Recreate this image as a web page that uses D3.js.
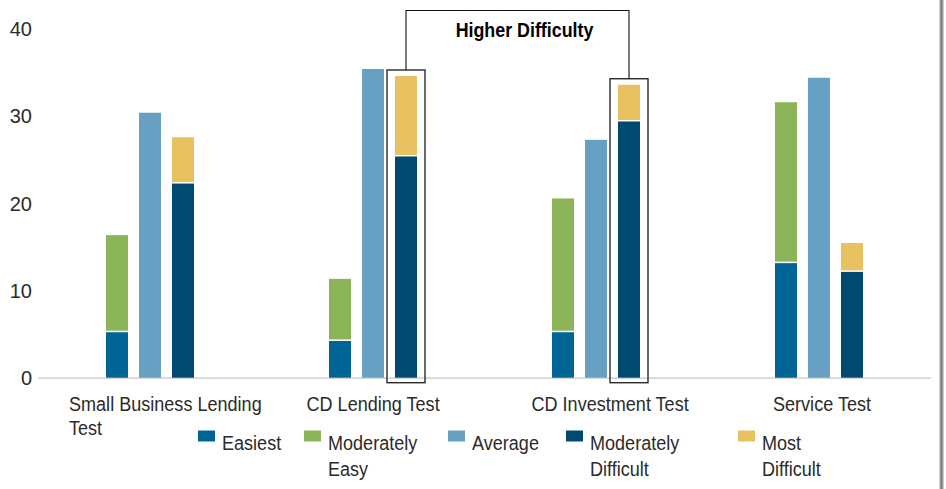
<!DOCTYPE html>
<html>
<head>
<meta charset="utf-8">
<script src="https://cdn.jsdelivr.net/npm/d3@7"></script>
<style>
  html, body { margin: 0; padding: 0; background: #fff; }
  svg { display: block; }
  .lbl { font-family: "Liberation Sans", Arial, sans-serif; fill: #2b2b2b; }
  .tick text { font-family: "Liberation Sans", Arial, sans-serif; fill: #2b2b2b; }
</style>
</head>
<body>
<svg id="chart" width="946" height="489"></svg>
<script>
// ---- data ----
const categories = ["Small Business Lending Test", "CD Lending Test", "CD Investment Test", "Service Test"];
const categoryLines = [["Small Business Lending", "Test"], ["CD Lending Test"], ["CD Investment Test"], ["Service Test"]];
const seriesNames = ["Easiest", "Moderately Easy", "Average", "Moderately Difficult", "Most Difficult"];
const legendLines = [["Easiest"], ["Moderately", "Easy"], ["Average"], ["Moderately", "Difficult"], ["Most", "Difficult"]];
const easiest = [5.2, 4.2, 5.2, 13.1];
const moderatelyEasy = [11.1, 7.1, 15.3, 18.4];
const average = [30.3, 35.3, 27.2, 34.3];
const moderatelyDifficult = [22.2, 25.3, 29.3, 12.1];
const mostDifficult = [5.3, 9.2, 4.2, 3.3];
const yTicks = [0, 10, 20, 30, 40];
const highlightCategories = ["CD Lending Test", "CD Investment Test"];
const annotationText = "Higher Difficulty";

// ---- styles / layout ----
const colors = {
  "Easiest": "#006496",
  "Moderately Easy": "#8cb55a",
  "Average": "#68a0c4",
  "Moderately Difficult": "#004a71",
  "Most Difficult": "#e8c160"
};
const narrow = 0.86;
const svg = d3.select("#chart");
const x = d3.scaleBand().domain(categories).range([38.5, 930.5]).padding(0);
const y = d3.scaleLinear().domain([0, 40]).range([377.7, 27.9]);
const sub = d3.scaleBand().domain([0, 1, 2]).range([-44, 44]).paddingInner(1 / 3).paddingOuter(0);

function narrowText(parent, tx, ty, lines, size, lineH, opts = {}) {
  const g = parent.append("g").attr("transform", `translate(${tx},${ty}) scale(${opts.scale || narrow},1)`);
  const t = g.append("text").attr("class", "lbl").attr("font-size", size)
    .attr("text-anchor", opts.anchor || "start");
  if (opts.bold) t.attr("font-weight", "bold");
  if (opts.fill) t.style("fill", opts.fill);
  lines.forEach((line, j) => {
    t.append("tspan").attr("x", 0).attr("dy", j === 0 ? 0 : lineH).text(line);
  });
  return g;
}

// stacks: column 0 = easiest + moderately easy, column 1 = average, column 2 = mod difficult + most difficult
const columns = [
  [{ name: "Easiest", vals: easiest }, { name: "Moderately Easy", vals: moderatelyEasy }],
  [{ name: "Average", vals: average }],
  [{ name: "Moderately Difficult", vals: moderatelyDifficult }, { name: "Most Difficult", vals: mostDifficult }]
];

// baseline
svg.append("line")
  .attr("x1", 38).attr("x2", 931)
  .attr("y1", y(0) + 0.5).attr("y2", y(0) + 0.5)
  .attr("stroke", "#d6d6d6").attr("stroke-width", 1.8);

// y axis (labels only)
const yAxis = d3.axisLeft(y).tickValues(yTicks).tickSize(0).tickPadding(0).tickFormat(d3.format("d"));
const yg = svg.append("g").attr("transform", "translate(32,0)").call(yAxis);
yg.select(".domain").remove();
yg.selectAll(".tick text").attr("font-size", 20).attr("dy", "0.36em");

// bars
const bars = svg.append("g");
const gap = 1.5;
categories.forEach((cat, i) => {
  const cx = x(cat) + x.bandwidth() / 2;
  columns.forEach((stack, c) => {
    let base = 0;
    stack.forEach((s, k) => {
      const v = s.vals[i];
      const y0 = y(base) - (k > 0 ? gap : 0);
      const y1 = y(base + v);
      bars.append("rect")
        .attr("x", cx + sub(c))
        .attr("width", sub.bandwidth())
        .attr("y", y1)
        .attr("height", Math.max(0, y0 - y1))
        .attr("fill", colors[s.name]);
      base += v;
    });
  });
});

// highlight boxes + bracket
const boxTops = [];
highlightCategories.forEach(cat => {
  const i = categories.indexOf(cat);
  const cx = x(cat) + x.bandwidth() / 2;
  const total = moderatelyDifficult[i] + mostDifficult[i];
  const bx0 = cx + sub(2) - 8, bx1 = cx + sub(2) + sub.bandwidth() + 8;
  const top = y(total) - 6, bottom = y(0) + 5;
  svg.append("rect")
    .attr("x", bx0).attr("y", top)
    .attr("width", bx1 - bx0).attr("height", bottom - top)
    .attr("fill", "none").attr("stroke", "#2a2a2a").attr("stroke-width", 1.4);
  boxTops.push({ x: (bx0 + bx1) / 2, y: top });
});
const bracketY = 10.5;
svg.append("path")
  .attr("d", `M${boxTops[0].x},${boxTops[0].y} V${bracketY} H${boxTops[1].x} V${boxTops[1].y}`)
  .attr("fill", "none").attr("stroke", "#111").attr("stroke-width", 1.1);
narrowText(svg, (boxTops[0].x + boxTops[1].x) / 2 + 7, 36.5, [annotationText], 21, 0,
  { anchor: "middle", bold: true, fill: "#000", scale: 0.85 });

// category labels
const labelDx = [-81, -66.5, -64.5, -46];
categories.forEach((cat, i) => {
  const cx = x(cat) + x.bandwidth() / 2;
  narrowText(svg, cx + labelDx[i], 410.5, categoryLines[i], 21, 25);
});

// legend
const legendX = [198, 304, 448, 566, 738];
seriesNames.forEach((name, i) => {
  svg.append("rect").attr("x", legendX[i]).attr("y", 430.5).attr("width", 17).attr("height", 11).attr("fill", colors[name]);
  narrowText(svg, legendX[i] + 24, 450, legendLines[i], 21, 26);
});

// right border
svg.append("rect").attr("x", 939.5).attr("y", 0).attr("width", 4).attr("height", 489).attr("fill", "#9a9a9a");
svg.append("line").attr("x1", 941.5).attr("x2", 941.5).attr("y1", 0).attr("y2", 489).attr("stroke", "#7d7d7d").attr("stroke-width", 1);
</script>
</body>
</html>
